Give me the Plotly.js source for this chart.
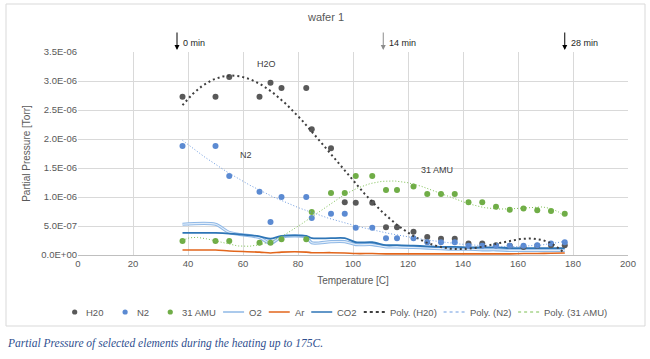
<!DOCTYPE html>
<html>
<head>
<meta charset="utf-8">
<script src="https://cdn.plot.ly/plotly-3.0.1.min.js"></script>
<style>
html,body{margin:0;padding:0;background:#fff;}
#chart{width:650px;height:359px;}
</style>
</head>
<body>
<div id="chart"></div>
<script>
// ---------------- data ----------------
const temperature = [38, 50, 55, 66, 70, 74, 83, 85, 92, 97, 101, 107, 112, 116, 122, 127, 132, 137, 142, 147, 152, 157, 162, 167, 172, 177];
const h2o   = [2.73e-6, 2.73e-6, 3.07e-6, 2.73e-6, 2.97e-6, 2.88e-6, 2.88e-6, 2.17e-6, 1.84e-6, 0.91e-6, 0.90e-6, 0.90e-6, 0.48e-6, 0.48e-6, 0.40e-6, 0.31e-6, 0.28e-6, 0.28e-6, 0.20e-6, 0.20e-6, 0.17e-6, 0.16e-6, 0.14e-6, 0.16e-6, 0.17e-6, 0.17e-6];
const n2    = [1.88e-6, 1.88e-6, 1.36e-6, 1.09e-6, 0.57e-6, 1.00e-6, 1.00e-6, 0.64e-6, 0.71e-6, 0.71e-6, 0.47e-6, 0.47e-6, 0.29e-6, 0.29e-6, 0.29e-6, 0.22e-6, 0.22e-6, 0.22e-6, 0.16e-6, 0.16e-6, 0.16e-6, 0.16e-6, 0.16e-6, 0.17e-6, 0.20e-6, 0.22e-6];
const amu31 = [0.24e-6, 0.24e-6, 0.24e-6, 0.21e-6, 0.21e-6, 0.27e-6, 0.27e-6, 0.74e-6, 1.07e-6, 1.07e-6, 1.36e-6, 1.36e-6, 1.12e-6, 1.12e-6, 1.18e-6, 1.05e-6, 1.05e-6, 1.05e-6, 0.91e-6, 0.91e-6, 0.83e-6, 0.78e-6, 0.80e-6, 0.77e-6, 0.76e-6, 0.71e-6];
const o2    = [0.53e-6, 0.53e-6, 0.39e-6, 0.30e-6, 0.20e-6, 0.31e-6, 0.31e-6, 0.21e-6, 0.23e-6, 0.23e-6, 0.18e-6, 0.18e-6, 0.14e-6, 0.14e-6, 0.13e-6, 0.12e-6, 0.11e-6, 0.10e-6, 0.10e-6, 0.09e-6, 0.09e-6, 0.08e-6, 0.08e-6, 0.08e-6, 0.08e-6, 0.08e-6];
const ar    = [0.085e-6, 0.085e-6, 0.07e-6, 0.05e-6, 0.035e-6, 0.05e-6, 0.05e-6, 0.04e-6, 0.04e-6, 0.035e-6, 0.025e-6, 0.025e-6, 0.02e-6, 0.02e-6, 0.02e-6, 0.02e-6, 0.02e-6, 0.02e-6, 0.02e-6, 0.02e-6, 0.02e-6, 0.02e-6, 0.025e-6, 0.025e-6, 0.03e-6, 0.035e-6];
const co2   = [0.38e-6, 0.38e-6, 0.37e-6, 0.32e-6, 0.28e-6, 0.33e-6, 0.33e-6, 0.29e-6, 0.29e-6, 0.29e-6, 0.22e-6, 0.22e-6, 0.17e-6, 0.17e-6, 0.16e-6, 0.15e-6, 0.14e-6, 0.14e-6, 0.13e-6, 0.13e-6, 0.13e-6, 0.12e-6, 0.12e-6, 0.12e-6, 0.12e-6, 0.12e-6];

const yTickVals  = [0, 0.5e-6, 1.0e-6, 1.5e-6, 2.0e-6, 2.5e-6, 3.0e-6, 3.5e-6];
const yTickText  = ['0.0E+00', '5.0E-07', '1.0E-06', '1.5E-06', '2.0E-06', '2.5E-06', '3.0E-06', '3.5E-06'];
const xTickVals  = [0, 20, 40, 60, 80, 100, 120, 140, 160, 180, 200];

const eventTemps  = [36, 111, 177];
const eventLabels = ['0 min', '14 min', '28 min'];

const seriesNames = ['H20', 'N2', '31 AMU', 'O2', 'Ar', 'CO2', 'Poly. (H20)', 'Poly. (N2)', 'Poly. (31 AMU)'];
const trendOrders = {h2o: 5, n2: 5, amu31: 6};
const curveLabels = ['H2O', 'N2', '31 AMU'];
const curveLabelPos = [[68.7, 3.29e-6], [61, 1.72e-6], [130.5, 1.47e-6]];

// ---------------- helpers ----------------
function polyfit(xs, ys, deg) {
  const n = xs.length;
  const mx = xs.reduce((a, b) => a + b, 0) / n;
  const sx = Math.sqrt(xs.reduce((a, b) => a + (b - mx) * (b - mx), 0) / n);
  const t = xs.map(x => (x - mx) / sx);
  const m = deg + 1;
  const A = [], b = [];
  for (let i = 0; i < m; i++) {
    A.push(new Array(m).fill(0)); b.push(0);
    for (let j = 0; j < m; j++) {
      let s = 0; for (let k = 0; k < n; k++) s += Math.pow(t[k], i + j);
      A[i][j] = s;
    }
    let s = 0; for (let k = 0; k < n; k++) s += ys[k] * 1e6 * Math.pow(t[k], i);
    b[i] = s;
  }
  for (let c = 0; c < m; c++) {
    let p = c;
    for (let r = c + 1; r < m; r++) if (Math.abs(A[r][c]) > Math.abs(A[p][c])) p = r;
    [A[c], A[p]] = [A[p], A[c]]; [b[c], b[p]] = [b[p], b[c]];
    for (let r = c + 1; r < m; r++) {
      const f = A[r][c] / A[c][c];
      for (let q = c; q < m; q++) A[r][q] -= f * A[c][q];
      b[r] -= f * b[c];
    }
  }
  const coef = new Array(m).fill(0);
  for (let r = m - 1; r >= 0; r--) {
    let s = b[r];
    for (let q = r + 1; q < m; q++) s -= A[r][q] * coef[q];
    coef[r] = s / A[r][r];
  }
  return x => {
    const tt = (x - mx) / sx; let v = 0;
    for (let i = m - 1; i >= 0; i--) v = v * tt + coef[i];
    return v * 1e-6;
  };
}
function trend(xs, ys, deg) {
  const f = polyfit(xs, ys, deg);
  const x0 = Math.min(...xs), x1 = Math.max(...xs);
  const X = [], Y = [];
  for (let i = 0; i <= 300; i++) { const x = x0 + (x1 - x0) * i / 300; X.push(x); Y.push(f(x)); }
  return {X, Y};
}

// ---------------- styles ----------------
const C = {
  h2o: '#595959', h2oTrend: '#3f3f3f',
  n2: '#5b8ad2', n2Trend: '#6d9be0',
  amu: '#70ad47', amuTrend: '#7cbf52',
  o2: '#8fb8e6', o2in: '#e3eefa', ar: '#e2661c', co2: '#2e75b6'
};

const tH = trend(temperature, h2o, trendOrders.h2o);
const tN = trend(temperature, n2, trendOrders.n2);
const tA = trend(temperature, amu31, trendOrders.amu31);

const traces = [
  {x: temperature, y: ar, mode: 'lines', line: {color: C.ar, width: 1.6, shape: 'spline', smoothing: 0.8}},
  {x: temperature, y: o2, mode: 'lines', line: {color: C.o2, width: 3.2, shape: 'spline', smoothing: 0.8}},
  {x: temperature, y: o2, mode: 'lines', line: {color: C.o2in, width: 1.1, shape: 'spline', smoothing: 0.8}},
  {x: temperature, y: co2, mode: 'lines', line: {color: C.co2, width: 1.8, shape: 'spline', smoothing: 0.8}},
  {x: temperature, y: h2o, mode: 'markers', marker: {color: C.h2o, size: 6}},
  {x: temperature, y: n2, mode: 'markers', marker: {color: C.n2, size: 6}},
  {x: temperature, y: amu31, mode: 'markers', marker: {color: C.amu, size: 6}},
  {x: tH.X, y: tH.Y, mode: 'lines', line: {color: C.h2oTrend, width: 2, dash: '2px,3px'}},
  {x: tN.X, y: tN.Y, mode: 'lines', line: {color: C.n2Trend, width: 1, dash: '1px,2px'}},
  {x: tA.X, y: tA.Y, mode: 'lines', line: {color: C.amuTrend, width: 1, dash: '1px,2px'}}
];
traces.forEach(t => { t.showlegend = false; t.hoverinfo = 'skip'; t.cliponaxis = true; });

// ---------------- geometry (pixels -> paper) ----------------
const L = 78, R = 628, T = 52, B = 255, W = 650, H = 359;
const px = x => (x - L) / (R - L);
const py = y => (B - y) / (B - T);

const shapes = [
  {type: 'rect', xref: 'paper', yref: 'paper', x0: px(6), x1: px(645), y0: py(326), y1: py(4),
   line: {color: '#d9d9d9', width: 1}, fillcolor: 'rgba(0,0,0,0)', layer: 'below'}
];
const annotations = [];

// title
annotations.push({xref: 'paper', yref: 'paper', x: px(325), y: py(17), text: 'wafer 1', showarrow: false,
  font: {family: 'Liberation Sans, Arial', size: 11, color: '#595959'}, xanchor: 'center', yanchor: 'middle'});

// event arrows
const arrowColors = ['#000000', '#8c8c8c', '#000000'];
eventTemps.forEach((tx, i) => {
  annotations.push({xref: 'x', yref: 'paper', x: tx, y: py(50), ax: 0, ay: -19, axref: 'pixel', ayref: 'pixel',
    text: '', showarrow: true, arrowhead: 2, arrowsize: 1, arrowwidth: 1, arrowcolor: arrowColors[i]});
  annotations.push({xref: 'x', yref: 'paper', x: tx, y: py(43), xshift: 4, text: eventLabels[i], showarrow: false,
    xanchor: 'left', yanchor: 'middle', font: {family: 'Liberation Sans, Arial', size: 9, color: '#262626'}});
});

// curve labels
curveLabels.forEach((t, i) => {
  annotations.push({xref: 'x', yref: 'y', x: curveLabelPos[i][0], y: curveLabelPos[i][1], text: t, showarrow: false,
    xanchor: 'center', yanchor: 'middle', font: {family: 'Liberation Sans, Arial', size: 9, color: '#404040'}});
});

// caption
annotations.push({xref: 'paper', yref: 'paper', x: px(5), y: py(343), text: 'Partial Pressure of selected elements during the heating up to 175C.',
  showarrow: false, xanchor: 'left', yanchor: 'middle',
  font: {family: 'Liberation Serif, DejaVu Serif, serif', size: 11.5, color: '#2f4f8f', style: 'italic'}});

// ---------------- custom legend ----------------
const legendFont = 9.5;
const cv = document.createElement('canvas').getContext('2d');
cv.font = legendFont + 'px "Liberation Sans"';
const legendKinds = [
  {kind: 'marker', color: C.h2o}, {kind: 'marker', color: C.n2}, {kind: 'marker', color: C.amu},
  {kind: 'line', color: C.o2, width: 1.5}, {kind: 'line', color: C.ar, width: 1.5}, {kind: 'line', color: C.co2, width: 1.5},
  {kind: 'line', color: C.h2oTrend, width: 2, dash: 'dot'}, {kind: 'line', color: C.n2Trend, width: 1, dash: 'dot'},
  {kind: 'line', color: C.amuTrend, width: 1, dash: 'dot'}
];
const symW = 21, symGap = 3, itemGap = 9;
const widths = seriesNames.map(s => cv.measureText(s).width);
let total = 0;
widths.forEach((w, i) => { total += symW + symGap + w + (i < widths.length - 1 ? itemGap : 0); });
let cx = 333 - total / 2;
const ly = 312;
legendKinds.forEach((k, i) => {
  if (k.kind === 'marker') {
    shapes.push({type: 'circle', xref: 'paper', yref: 'paper', xsizemode: 'pixel', ysizemode: 'pixel',
      xanchor: px(cx + symW / 2 + 4), yanchor: py(ly), x0: -2.6, x1: 2.6, y0: -2.6, y1: 2.6,
      fillcolor: k.color, line: {width: 0}});
  } else {
    shapes.push({type: 'line', xref: 'paper', yref: 'paper', x0: px(cx), x1: px(cx + symW), y0: py(ly), y1: py(ly),
      line: {color: k.color, width: k.width, dash: k.dash || 'solid'}});
  }
  annotations.push({xref: 'paper', yref: 'paper', x: px(cx + symW + symGap), y: py(ly), text: seriesNames[i],
    showarrow: false, xanchor: 'left', yanchor: 'middle', font: {family: 'Liberation Sans, Arial', size: legendFont, color: '#595959'}});
  cx += symW + symGap + widths[i] + itemGap;
});

const layout = {
  width: W, height: H,
  margin: {l: L, r: W - R, t: T, b: H - B, pad: 0},
  paper_bgcolor: '#ffffff', plot_bgcolor: '#ffffff',
  showlegend: false,
  font: {family: 'Liberation Sans, Arial', color: '#595959'},
  xaxis: {
    range: [0, 200], tickvals: xTickVals, ticktext: xTickVals.map(String),
    showgrid: true, gridcolor: '#d9d9d9', gridwidth: 1, zeroline: false,
    showline: true, linecolor: '#bfbfbf', linewidth: 1, ticks: '', ticklen: 0,
    tickfont: {size: 9.5, color: '#595959'},
    title: {text: 'Temperature [C]', font: {size: 10, color: '#595959'}, standoff: 8}
  },
  yaxis: {
    range: [0, 3.5e-6], tickvals: yTickVals, ticktext: yTickText,
    showgrid: true, gridcolor: '#d9d9d9', gridwidth: 1, zeroline: false,
    showline: false, ticks: '', tickfont: {size: 9.5, color: '#595959'},
    title: {text: 'Partial Pressure [Torr]', font: {size: 10, color: '#595959'}, standoff: 8}
  },
  shapes: shapes,
  annotations: annotations
};

Plotly.newPlot('chart', traces, layout, {staticPlot: true, displayModeBar: false});
</script>
</body>
</html>
